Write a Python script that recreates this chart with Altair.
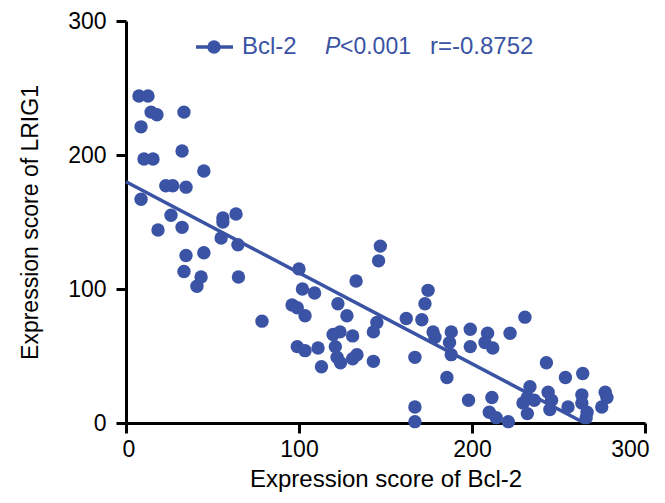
import altair as alt
import pandas as pd

# Scatter data (Bcl-2 score, LRIG1 score)
bcl2 = [7.5, 12.7, 8.7, 14.5, 17.9, 33.5, 10.4, 15.6, 32.4, 45, 23, 27, 34.7, 8.7, 26, 56, 63.6, 56,
        18.5, 32.4, 55, 64.7, 34.7, 45, 33.5, 43.4, 41, 65,
        147, 146, 100, 133, 102, 109, 96, 99, 103.5, 78.6, 122.5, 127.7, 145, 143, 119.7, 123.7, 131,
        99, 103.5, 111, 121, 122, 124, 113, 133.5, 131, 143,
        174.6, 172.8, 162, 171, 177.5, 178.6, 188, 187, 188, 199, 199, 209, 207.5, 212, 222, 230.6,
        167, 185.5, 167, 167, 198, 211.5, 210, 214, 221,
        243, 254, 264, 233.5, 232, 229.5, 232, 244, 246, 245, 255.5, 263.5, 263.5, 266.5, 266,
        277, 278, 275, 236]
lrig1 = [244, 244, 221, 232, 230, 232, 197, 197, 203, 188, 177, 177, 176, 167, 155, 153, 156, 150,
         144, 146, 138, 133, 125, 127, 113, 109, 102, 109,
         132, 121, 115, 106, 100, 97, 88, 86, 80, 76, 89, 80, 75, 68, 66, 68, 65,
         57, 54, 56, 57, 49, 45, 42, 51, 48, 46,
         99, 89, 78, 77, 68, 64, 68, 60, 51, 70, 57, 67, 60, 56, 67, 79,
         49, 34, 12, 1, 17, 19, 8, 4, 1,
         45, 34, 37, 27, 19, 15, 7, 23, 17, 10, 12, 21, 15, 8, 4,
         23, 19, 12, 17]

# Fitted regression line endpoints
fit_x = [0, 265]
fit_y = [180, 0]

x_ticks = [0, 100, 200, 300]
y_ticks = [0, 100, 200, 300]

BLUE = "#3A53A4"
FONT = "Liberation Sans"

pts = pd.DataFrame({"x": bcl2, "y": lrig1})
fit = pd.DataFrame({"x": fit_x, "y": fit_y})

xscale = alt.Scale(domain=[0, 300], nice=False, zero=False)
yscale = alt.Scale(domain=[0, 300], nice=False, zero=False)

xaxis = alt.Axis(title="Expression score of Bcl-2", values=x_ticks, grid=False,
                 domainColor="black", domainWidth=3, tickColor="black", tickWidth=3, tickSize=10,
                 labelFontSize=23, labelColor="black", labelFont=FONT, labelPadding=5,
                 labelFlush=True, labelFlushOffset=4,
                 titleFontSize=24, titleFont=FONT, titleFontWeight="normal", titleColor="black",
                 titlePadding=6)
yaxis = alt.Axis(title="Expression score of LRIG1", values=y_ticks, grid=False,
                 domainColor="black", domainWidth=3, tickColor="black", tickWidth=3, tickSize=10,
                 labelFontSize=23, labelColor="black", labelFont=FONT, labelPadding=10,
                 titleFontSize=23, titleFont=FONT, titleFontWeight="normal", titleColor="black",
                 titlePadding=25, labelFlush=False)

points = alt.Chart(pts).mark_circle(size=180, color=BLUE, opacity=1).encode(
    x=alt.X("x:Q", scale=xscale, axis=xaxis),
    y=alt.Y("y:Q", scale=yscale, axis=yaxis),
)

line = alt.Chart(fit).mark_line(color=BLUE, strokeWidth=3.5).encode(
    x=alt.X("x:Q", scale=xscale),
    y=alt.Y("y:Q", scale=yscale),
)

one = pd.DataFrame({"k": [0]})
leg_line = alt.Chart(one).mark_rule(color=BLUE, strokeWidth=3.5).encode(
    x=alt.value(70), x2=alt.value(107), y=alt.value(26))
leg_pt = alt.Chart(one).mark_circle(size=180, color=BLUE, opacity=1).encode(
    x=alt.value(88), y=alt.value(26))
leg_t1 = alt.Chart(one).mark_text(align="left", baseline="middle", font=FONT, fontSize=24,
                                  color=BLUE).encode(x=alt.value(116), y=alt.value(26), text=alt.value("Bcl-2"))
leg_t2 = alt.Chart(one).mark_text(align="left", baseline="middle", font=FONT, fontSize=23,
                                  fontStyle="italic", color=BLUE).encode(x=alt.value(199), y=alt.value(26), text=alt.value("P"))
leg_t3 = alt.Chart(one).mark_text(align="left", baseline="middle", font=FONT, fontSize=23,
                                  color=BLUE).encode(x=alt.value(214), y=alt.value(26), text=alt.value("<0.001"))
leg_t4 = alt.Chart(one).mark_text(align="left", baseline="middle", font=FONT, fontSize=24,
                                  color=BLUE).encode(x=alt.value(304), y=alt.value(26), text=alt.value("r=-0.8752"))

chart = alt.layer(line, points, leg_line, leg_pt, leg_t1, leg_t2, leg_t3, leg_t4).properties(
    width=519, height=402,
    autosize=alt.AutoSizeParams(type="none"),
    padding={"left": 118, "top": 13, "right": 12, "bottom": 72},
).configure_view(stroke=None)

chart.save("out.html", embed_options={"renderer": "svg", "actions": False})
